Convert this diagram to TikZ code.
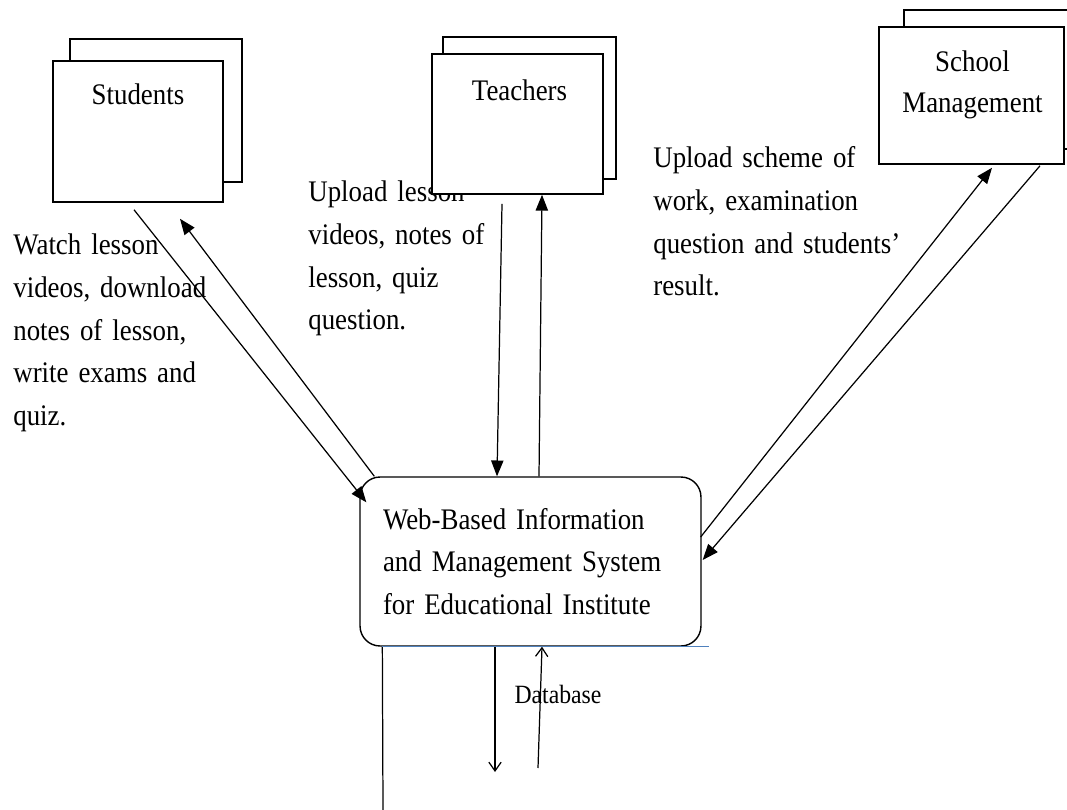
\documentclass[tikz,border=0pt]{standalone}
\usepackage{fontspec}
\setmainfont{Liberation Serif}[FakeStretch=0.9]
\usetikzlibrary{arrows.meta,calc,backgrounds}
\definecolor{edgeblue}{RGB}{79,129,189}
\tikzset{
  entity/.style={draw, fill=white, line width=0.9pt, inner sep=0pt},
  entitytext/.style={anchor=base, inner sep=0pt, align=center, text width=3.6cm,
    font=\fontsize{17}{23.3}\selectfont},
  process/.style={draw, fill=white, rounded corners=0.4cm, line width=0.8pt,
    inner xsep=0.46cm, inner ysep=0pt, minimum width=6.82cm, minimum height=3.38cm,
    text width=5.9cm, align=left, font=\fontsize{17}{24.2}\selectfont},
  note/.style={anchor=base west, inner sep=0pt, align=left,
    font=\fontsize{17}{24.2}\selectfont},
  flow/.style={line width=0.7pt, -{Triangle[length=9pt,width=7pt]}},
  dbflow/.style={line width=0.7pt, -{Straight Barb[length=5pt,width=7pt]}}
}
\begin{document}
\begin{tikzpicture}[x=0.02cm,y=-0.02cm]
\useasboundingbox (0,0) rectangle (1067,810);
% what flows along the arrows
\node[note,text width=4.5cm] (watchnote) at (13,255) {Watch lesson\\videos, download\\notes of lesson,\\write exams and\\quiz.};
\node[note,text width=4.5cm] (uploadnote) at (308,202) {Upload lesson\\videos, notes of\\lesson, quiz\\question.};
\node[note,text width=5.5cm] (schemenote) at (653,168) {Upload scheme of\\work, examination\\question and students’\\result.};

% external entities
\node[entity,minimum width=3.4cm,minimum height=2.82cm] (students) at (138,131.5) {};
\node[entity,minimum width=3.42cm,minimum height=2.8cm] (teachers) at (517.5,124) {};
\node[entity,minimum width=3.7cm,minimum height=2.74cm] (school) at (971.5,95.5) {};
\begin{scope}[on background layer]
  \foreach \ent/\dx/\dy in {students/18/-21,teachers/12/-16,school/26/-16}
    \draw[line width=0.9pt] ($(\ent.south west)+(\dx,\dy)$) rectangle ($(\ent.north east)+(\dx,\dy)$);
\end{scope}
\node[entitytext] (students-label) at ($(students.north)+(0,44)$) {Students};
\node[entitytext] (teachers-label) at ($(teachers.north)+(2,47)$) {Teachers};
\node[entitytext] (school-label) at ($(school.north)+(1,45)$) {School\\Management};

% the system
\node[process] (web) at (530.5,561.5) {Web-Based Information\\and Management System\\for Educational Institute};

% students
\draw[flow] ($(students.south)+(-4,7)$) -- ($(web.north west)+(7,26)$);
\draw[flow] ($(web.north west)+(15,0)$) -- ($(students.south)+(42,16)$);
% teachers
\draw[flow] ($(teachers.south)+(-15.5,9)$) -- ($(web.north)+(-33.5,0)$);
\draw[flow] ($(web.north)+(8.5,0)$) -- ($(teachers.south)+(24.5,0)$);
% school management
\draw[flow] ($(web.east)+(-1,-24.5)$) -- ($(school.south)+(20.5,3)$);
\draw[flow] ($(school.south)+(68.5,1)$) -- ($(web.east)+(1,-1.5)$);

% database
\coordinate (dbin) at (495,772);
\coordinate (dbout) at (538,768);
\coordinate (floor) at (383,810);
\node[font=\fontsize{15}{18}\selectfont, inner sep=0pt] (dblabel) at (558,694) {Database};
\draw[dbflow] ($(web.south)+(-35.5,0)$) -- (dbin);
\draw[dbflow] (dbout) -- ($(web.south)+(11.5,0)$);
\draw[line width=0.7pt] ($(web.south west)+(23,0)$) -- (floor);
\draw[edgeblue, line width=0.8pt] ($(web.south west)+(23,0)$) -- ($(web.south east)+(7,0)$);
\end{tikzpicture}
\end{document}
